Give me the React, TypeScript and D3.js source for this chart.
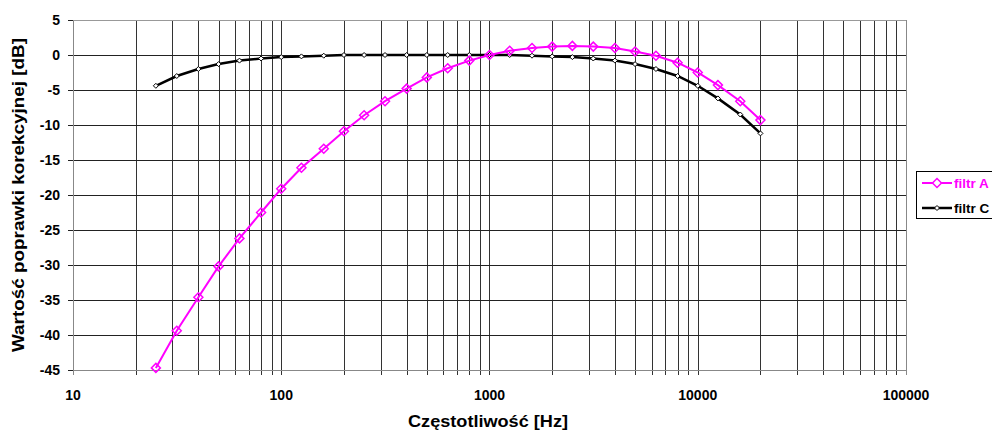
import React from "react";
import * as d3 from "d3";

const freqs = [25, 31.5, 40, 50, 63, 80, 100, 125, 160, 200, 250, 315, 400, 500, 630, 800, 1000, 1250, 1600, 2000, 2500, 3150, 4000, 5000, 6300, 8000, 10000, 12500, 16000, 20000];
const filtrA = [-44.7, -39.4, -34.6, -30.2, -26.2, -22.5, -19.1, -16.1, -13.4, -10.9, -8.6, -6.6, -4.8, -3.2, -1.9, -0.8, 0, 0.6, 1.0, 1.2, 1.3, 1.2, 1.0, 0.5, -0.1, -1.1, -2.5, -4.3, -6.6, -9.3];
const filtrC = [-4.4, -3.0, -2.0, -1.3, -0.8, -0.5, -0.3, -0.2, -0.1, 0, 0, 0, 0, 0, 0, 0, 0, 0, -0.1, -0.2, -0.3, -0.5, -0.8, -1.3, -2.0, -3.0, -4.4, -6.2, -8.5, -11.2];
const xTickLabels = [10, 100, 1000, 10000, 100000];
const yTicks = [5, 0, -5, -10, -15, -20, -25, -30, -35, -40, -45];
const seriesNames = ["filtr A", "filtr C"];

const W = 992, H = 433;
const L = 73, R = 906, T = 20, B = 370;

export default function App() {
  const x = d3.scaleLog().domain([10, 100000]).range([L, R]);
  const y = d3.scaleLinear().domain([-45, 5]).range([B, T]);
  const minor: number[] = [];
  for (let d = 10; d < 100000; d *= 10) for (let k = 1; k <= 10; k++) minor.push(d * k);
  const line = d3.line<number>().x((_, i) => x(freqs[i])).y((v) => y(v));
  const font = "'Liberation Sans', Arial, sans-serif";
  const diamond = (cx: number, cy: number, r: number) => `M${cx},${cy - r}L${cx + r},${cy}L${cx},${cy + r}L${cx - r},${cy}Z`;
  return (
    <svg width={W} height={H} style={{ position: "absolute", left: 0, top: 0, background: "#fff" }} fontFamily={font}>
      <g shapeRendering="crispEdges">
        {minor.map((f, i) => (
          <line key={"v" + i} x1={Math.round(x(f)) + 0.5} x2={Math.round(x(f)) + 0.5} y1={T} y2={B + 5} stroke="#333" strokeWidth={1} />
        ))}
        {yTicks.map((v) => (
          <line key={"h" + v} x1={L - 5} x2={R} y1={Math.round(y(v)) + 0.5} y2={Math.round(y(v)) + 0.5} stroke="#222" strokeWidth={1} />
        ))}
        <line x1={L + 0.5} x2={L + 0.5} y1={T} y2={B + 5} stroke="#888" />
        <line x1={L} x2={R} y1={B + 0.5} y2={B + 0.5} stroke="#888" />
        <line x1={R + 0.5} x2={R + 0.5} y1={T} y2={B + 5} stroke="#888" />
        <line x1={L} x2={R} y1={T + 0.5} y2={T + 0.5} stroke="#999" />
      </g>
      {yTicks.map((v) => (
        <text key={"yl" + v} x={60} y={y(v) + 5} textAnchor="end" fontSize={14} fontWeight="bold">{v}</text>
      ))}
      {xTickLabels.map((v) => (
        <text key={"xl" + v} x={x(v)} y={400} textAnchor="middle" fontSize={14} fontWeight="bold">{v}</text>
      ))}
      <text x={408} y={427} fontSize={16} fontWeight="bold" textLength={160} lengthAdjust="spacingAndGlyphs">Częstotliwość [Hz]</text>
      <text transform={`translate(24,${(T + B) / 2 + 157}) rotate(-90)`} fontSize={16} fontWeight="bold" textLength={314} lengthAdjust="spacingAndGlyphs">Wartość poprawki korekcyjnej [dB]</text>
      <path d={line(filtrC) || ""} fill="none" stroke="#000" strokeWidth={2.5} />
      {filtrC.map((v, i) => (
        <path key={"c" + i} d={diamond(x(freqs[i]), y(v), 2.5)} fill="#fff" stroke="#000" strokeWidth={1} />
      ))}
      <path d={line(filtrA) || ""} fill="none" stroke="#ff00ff" strokeWidth={2} />
      {filtrA.map((v, i) => (
        <path key={"a" + i} d={diamond(x(freqs[i]), y(v), 4.5)} fill="none" stroke="#ff00ff" strokeWidth={1.5} />
      ))}
      <rect x={916.5} y={171.5} width={90} height={47} fill="#fff" stroke="#000" />
      <line x1={922} x2={952} y1={183} y2={183} stroke="#ff00ff" strokeWidth={2} />
      <path d={diamond(937, 183, 4.5)} fill="#fff" stroke="#ff00ff" strokeWidth={1.5} />
      <text x={954} y={188} fontSize={13.5} fontWeight="bold" fill="#ff00ff">{seriesNames[0]}</text>
      <line x1={922} x2={952} y1={208} y2={208} stroke="#000" strokeWidth={2.5} />
      <path d={diamond(937, 208, 2.5)} fill="#fff" stroke="#000" strokeWidth={1} />
      <text x={954} y={213} fontSize={13.5} fontWeight="bold" fill="#000">{seriesNames[1]}</text>
    </svg>
  );
}
